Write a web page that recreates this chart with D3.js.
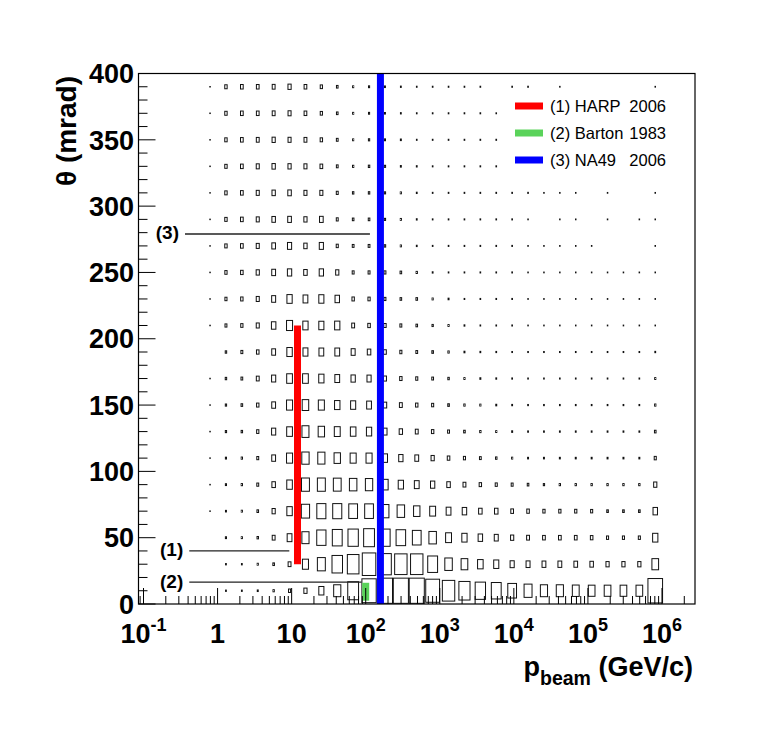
<!DOCTYPE html>
<html><head><meta charset="utf-8">
<script src="https://cdn.jsdelivr.net/npm/d3@7"></script>
<style>body{margin:0;background:#fff}svg{display:block}</style>
</head><body>
<svg id="chart" width="772" height="738"></svg>
<script>
// ---------------- data ----------------
const pRange = [0.0856, 2.79e6];        // GeV/c, x axis (log)
const nBinsX = 35;                       // log-spaced momentum bins over pRange
const firstFilledBin = 4;                // bin index of first column below
const thetaRange = [0, 400];             // mrad
const thetaBinWidth = 20;                // mrad

// relative box size (% of the bin) per momentum column, one array per theta bin
// null = cell hidden by the legend
const row390 = [2,15,17,17,18,20,17,14,10,7, 7,6,5,4,4,4,4,4,0,4, 4,0,3,0,0,0,0,0,3];
const row370 = [2,15,17,17,18,19,17,14,10,7, 7,6,5,4,4,4,4,4,3.5,null, null,null,null,null,null,null,null,null,null];
const row350 = [2,15,17,18,20,19,18,15,11,7, 8,7,6,4,4,4,4,4,4,null, null,null,null,null,null,null,null,null,null];
const row330 = [2,15,17,19,21,20,19,17,11,8, 9,8,6,5,4,4,4,4,4,null, null,null,null,null,null,null,null,null,null];
const row310 = [2,15,17,19,21,22,19,19,12,9, 9,8,7,5,4,4,4,4,4,4, 4,3,3,3,0,3,0,0,3];
const row290 = [2,15,17,19,22,23,20,23,12,10, 10,8,7,5,4,4,4,4,4,4, 3,0,3,3,0,3,0,3,3];
const row270 = [2,15,17,19,23,26,21,26,13,11, 11,9,7,5,4,4,4,4,4,4, 3,3,3,3,3,0,0,0,3];
const row250 = [2,14,16,20,24,27,22,27,20,12, 12,12,10,8,5,4,4,4,4,4, 3,3,3,3,3,3,3,3,3];
const row230 = [2,13,15,19,25,33,30,32,28,15, 14,12,10,10,7,6,4,4,4,4, 3,3,3,3,3,3,3,3,3];
const row210 = [2,12,14,19,28,38,33,32,33,18, 16,15,12,10,8,7,5,4,4,4, 3,3,3,3,3,3,3,3,3];
const row190 = [0,9,12,16,24,34,31,30,30,25, 22,17,13,11,10,8,6,5,4.5,4, 4,4,4,4,4,4,4,4,5];
const row170 = [2,9,11,18,26,36,36,33,30,27, 26,19,15,13,11,9,7,6,5,4.5, 4,4,4,4,4,4,4,4,7];
const row150 = [2,8,10,15,24,38,41,38,34,32, 30,22,18,15,13,10,8,7,6,5, 4.5,4.5,4.5,4.5,4.5,4.5,4.5,4.5,8];
const row130 = [2,8,9,14,26,36,44,40,37,35, 33,26,21,18,15,12,10,8,7,6, 5,5,5,5,5,5,5,5,10];
const row110 = [2,7,8,12,24,38,46,45,40,38, 38,32,27,24,20,16,13,11,9,7, 6,6,6,6,6,6,6,6,13];
const row90  = [2,7,8,12,22,35,50,50,49,47, 46,40,33,30,27,22,18,15,13,12, 10,8,8,8,8,8,8,8,20];
const row70  = [2,6,7,10,20,34,52,57,57,55, 55,50,47,40,37,30,28,22,22,17, 16,14,14,14,13,10,10,10,28];
const row50  = [0,7,7,9,18,30,45,58,62,65, 68,65,60,55,47,37,33,28,25,20, 18,17,17,17,16,13,13,13,33];
const row30  = [0,5,5,7,10,18,38,50,66,73, 85,80,78,78,62,47,42,35,32,26, 25,24,24,23,22,20,20,20,42];
const row10  = [0,5,5,6,8,13,20,32,45,68, 90,95,95,95,87,78,70,65,62,55, 50,45,45,43,42,42,42,42,92];
const rowsBottomUp = [row10,row30,row50,row70,row90,row110,row130,row150,row170,row190,
                      row210,row230,row250,row270,row290,row310,row330,row350,row370,row390];

// experiments
const expNames   = ["(1) HARP", "(2) Barton", "(3) NA49"];
const expYears   = ["2006", "1983", "2006"];
const expMomenta = [12, 100, 158];      // GeV/c
const expThetaLo = [30, 2.5, 0];        // mrad
const expThetaHi = [210, 16, 400];      // mrad

// acceptance marker lines
const markLabels = ["(1)", "(2)", "(3)"];
const markTheta  = [40, 16.5, 279];
const markPFrom  = [0.415, 0.415, 0.363];
const markPTo    = [9.3, 88, 114];

// axis ticks / labels
const xMajorTicks = [0.1, 1, 10, 100, 1e3, 1e4, 1e5, 1e6];
const xTickBase   = ["10", "1", "10", "10", "10", "10", "10", "10"];
const xTickExp    = ["-1", "", "", "2", "3", "4", "5", "6"];
const yMajorTicks = [0, 50, 100, 150, 200, 250, 300, 350, 400];

// ---------------- drawing ----------------
const FONT = "'Liberation Sans', Arial, Helvetica, sans-serif";
const expColors = ["#ff0000", "#5ad35a", "#0000ff"];
const svg = d3.select("#chart");
svg.append("rect").attr("width", 772).attr("height", 738).attr("fill", "#fff");

const fr = {l: 138.5, r: 695, t: 73.5, b: 604};
const x = d3.scaleLog().domain(pRange).range([fr.l, fr.r]);
const y = d3.scaleLinear().domain(thetaRange).range([fr.b, fr.t]);
const boxFrac = d3.scaleLinear().domain([0, 100]).range([0, 1]);
const lmin = Math.log10(pRange[0]), lmax = Math.log10(pRange[1]);
const lbw = (lmax - lmin) / nBinsX;

// boxes
const cells = [];
rowsBottomUp.forEach((row, r) => {
  row.forEach((v, c) => {
    if (v == null || v <= 0) return;
    const bin = firstFilledBin + c;
    const pLo = Math.pow(10, lmin + bin * lbw), pHi = Math.pow(10, lmin + (bin + 1) * lbw);
    const tLo = r * thetaBinWidth, tHi = tLo + thetaBinWidth;
    cells.push({pLo, pHi, tLo, tHi, v});
  });
});
svg.append("g").selectAll("rect").data(cells).join("rect")
  .each(function(d) {
    const x0 = x(d.pLo), x1 = x(d.pHi), y0 = y(d.tHi), y1 = y(d.tLo);
    const f = boxFrac(d.v);
    const w = Math.max(f * (x1 - x0), 0.5), h = Math.max(f * (y1 - y0), 0.5);
    d3.select(this)
      .attr("x", (x0 + x1) / 2 - w / 2).attr("y", (y0 + y1) / 2 - h / 2)
      .attr("width", w).attr("height", h);
  })
  .attr("fill", "none").attr("stroke", "#111").attr("stroke-width", 1);

// marker lines and labels
const gm = svg.append("g");
markLabels.forEach((lab, i) => {
  gm.append("line")
    .attr("x1", x(markPFrom[i])).attr("x2", x(markPTo[i]))
    .attr("y1", y(markTheta[i])).attr("y2", y(markTheta[i]))
    .attr("stroke", "#222").attr("stroke-width", 1.3);
  gm.append("text")
    .attr("x", x(markPFrom[i]) - 6).attr("y", y(markTheta[i]) + 5.5)
    .attr("text-anchor", "end").attr("font-family", FONT)
    .attr("font-weight", "bold").attr("font-size", 19).text(lab);
});

// experiment bars
const ge = svg.append("g");
expNames.forEach((n, i) => {
  ge.append("line")
    .attr("x1", x(expMomenta[i])).attr("x2", x(expMomenta[i]))
    .attr("y1", y(expThetaLo[i])).attr("y2", y(expThetaHi[i]))
    .attr("stroke", expColors[i]).attr("stroke-width", 7);
});

// legend
const lg = svg.append("g");
lg.append("rect").attr("x", 503).attr("y", 92).attr("width", 169).attr("height", 90).attr("fill", "#fff");
expNames.forEach((n, i) => {
  const yy = 106 + i * 27;
  lg.append("line").attr("x1", 515).attr("x2", 543).attr("y1", yy).attr("y2", yy)
    .attr("stroke", expColors[i]).attr("stroke-width", 7);
  lg.append("text").attr("x", 550).attr("y", yy + 6).attr("font-family", FONT)
    .attr("font-size", 16.5).text(n);
  lg.append("text").attr("x", 666).attr("y", yy + 6).attr("text-anchor", "end")
    .attr("font-family", FONT).attr("font-size", 16.5).text(expYears[i]);
});

// frame
svg.append("rect").attr("x", fr.l).attr("y", fr.t).attr("width", fr.r - fr.l).attr("height", fr.b - fr.t)
  .attr("fill", "none").attr("stroke", "#000").attr("stroke-width", 1.2);

// x ticks (inside, upward)
const gx = svg.append("g");
x.ticks(20).forEach(t => {
  const lt = Math.log10(t);
  const major = Math.abs(lt - Math.round(lt)) < 1e-6;
  const len = major ? 16 : 8;
  gx.append("line").attr("x1", x(t)).attr("x2", x(t)).attr("y1", fr.b).attr("y2", fr.b - len)
    .attr("stroke", "#000").attr("stroke-width", 1);
});
xMajorTicks.forEach((t, i) => {
  const tx = gx.append("text").attr("x", x(t)).attr("y", 643).attr("text-anchor", "middle")
    .attr("font-family", FONT).attr("font-weight", "bold").attr("font-size", 27);
  tx.append("tspan").text(xTickBase[i]);
  if (xTickExp[i]) tx.append("tspan").attr("dy", -12).attr("font-size", 18).text(xTickExp[i]);
});

// y ticks (inside, rightward)
const gy = svg.append("g");
y.ticks(40).forEach(t => {
  const major = t % 50 === 0;
  const len = major ? 17 : 9;
  gy.append("line").attr("x1", fr.l).attr("x2", fr.l + len).attr("y1", y(t)).attr("y2", y(t))
    .attr("stroke", "#000").attr("stroke-width", 1);
});
yMajorTicks.forEach(t => {
  gy.append("text").attr("x", 134).attr("y", y(t) + 9.7).attr("text-anchor", "end")
    .attr("font-family", FONT).attr("font-weight", "bold").attr("font-size", 27).text(t);
});

// axis titles
const xt = svg.append("text").attr("x", 693).attr("y", 676).attr("text-anchor", "end")
  .attr("font-family", FONT).attr("font-weight", "bold").attr("font-size", 27);
xt.append("tspan").text("p");
xt.append("tspan").attr("dy", 9).attr("font-size", 19.5).text("beam");
xt.append("tspan").attr("dy", -9).text(" (GeV/c)");

svg.append("text").attr("transform", "translate(76,131) rotate(-90)").attr("text-anchor", "middle")
  .attr("font-family", FONT).attr("font-weight", "bold").attr("font-size", 28).text("θ (mrad)");
</script>
</body></html>
